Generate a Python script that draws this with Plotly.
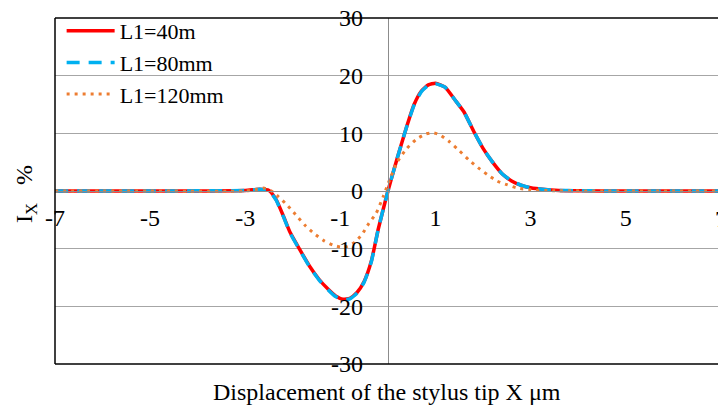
import plotly.graph_objects as go

# ---- data ----
x_red = [-7, -5, -3, -2.7, -2.5, -2.35, -2.2, -2.05, -1.85, -1.65, -1.45, -1.25, -1.1, -0.95, -0.8, -0.65,
         -0.5, -0.35, -0.2, 0, 0.2, 0.4, 0.55, 0.7, 0.85, 1.0, 1.2, 1.4, 1.6, 1.8, 2.0, 2.2, 2.4, 2.6,
         2.8, 3.0, 3.3, 3.6, 4, 5, 7]
y_red = [0, 0, 0.1, 0.3, 0.1, -1.5, -4.3, -7.3, -10.2, -13.0, -15.3, -17.1, -18.2, -18.75, -18.6, -17.6,
         -15.7, -12.2, -6.5, 0, 5.8, 11.3, 15.0, 17.3, 18.4, 18.7, 18.0, 15.9, 13.7, 10.4, 7.4, 5.0, 3.0, 1.75,
         1.0, 0.55, 0.25, 0.1, 0.05, 0, 0]

x_blue = x_red
y_blue = [0, 0, 0.1, 0.3, 0.1, -1.6, -4.4, -7.4, -10.3, -13.1, -15.4, -17.2, -18.3, -18.85, -18.7, -17.7,
          -15.8, -12.3, -6.5, 0, 5.8, 11.3, 14.9, 17.2, 18.3, 18.6, 18.0, 15.9, 13.7, 10.4, 7.4, 5.0, 3.0, 1.75,
          1.0, 0.55, 0.25, 0.1, 0.05, 0, 0]

x_orange = [-7, -5, -3, -2.75, -2.6, -2.45, -2.3, -2.1, -1.9, -1.75, -1.55, -1.35, -1.15, -1.0, -0.85, -0.7,
            -0.55, -0.4, -0.25, -0.1, 0, 0.2, 0.4, 0.6, 0.8, 0.95, 1.1, 1.3, 1.5, 1.7, 1.9, 2.1, 2.3, 2.5,
            2.7, 3.0, 3.5, 5, 7]
y_orange = [0, 0, 0, 0.3, 0.5, 0.0, -1.0, -2.6, -4.5, -5.9, -7.4, -8.6, -9.4, -9.7, -9.6, -8.9,
            -7.6, -5.6, -3.9, -1.0, 1.2, 5.1, 7.4, 9.0, 9.9, 10.1, 9.7, 8.5, 7.0, 5.4, 4.0, 2.8, 1.7, 1.1,
            0.55, 0.2, 0.05, 0, 0]

x_ticks = [-7, -5, -3, -1, 1, 3, 5, 7]
y_ticks = [-30, -20, -10, 0, 10, 20, 30]
names = ["L1=40m", "L1=80mm", "L1=120mm"]

FONT = "Liberation Serif"
FS = 24
X_MIN = -7
X_MAX_VISIBLE = 6.94  # the plot area runs slightly past the window edge

fig = go.Figure()
fig.add_trace(go.Scatter(x=x_red, y=y_red, name=names[0], mode="lines",
                         line=dict(color="#FF0000", width=3.5, shape="spline", smoothing=0.5)))
fig.add_trace(go.Scatter(x=x_blue, y=y_blue, name=names[1], mode="lines",
                         line=dict(color="#00B0F0", width=3.5, dash="13px,9px", shape="spline", smoothing=0.5)))
fig.add_trace(go.Scatter(x=x_orange, y=y_orange, name=names[2], mode="lines",
                         line=dict(color="#ED7D31", width=3, dash="3px,5px", shape="spline", smoothing=0.5)))

in_range = [v for v in x_ticks if v <= X_MAX_VISIBLE]
out_range = [v for v in x_ticks if v > X_MAX_VISIBLE]

annotations = [
    dict(text="Displacement of the stylus tip X μm", xref="paper", yref="paper", x=0.5, y=0,
         yshift=-28, xanchor="center", yanchor="middle", showarrow=False,
         font=dict(family=FONT, size=FS)),
    dict(text="I<sub>X</sub>   %", xref="paper", yref="paper", x=0, y=0.5, xshift=-29, yshift=-3,
         textangle=-90, xanchor="center", yanchor="middle", showarrow=False,
         font=dict(family=FONT, size=FS)),
]
for v in out_range:
    annotations.append(dict(text=str(v), xref="paper", yref="paper",
                            x=(v - X_MIN) / (X_MAX_VISIBLE - X_MIN), y=0.5, yshift=-28,
                            xanchor="center", yanchor="middle", showarrow=False,
                            font=dict(family=FONT, size=FS)))

fig.update_layout(
    width=718, height=412,
    margin=dict(l=55, r=0, t=18, b=48),
    paper_bgcolor="white", plot_bgcolor="white",
    font=dict(family=FONT, size=FS, color="black"),
    showlegend=True,
    legend=dict(x=0.01, y=1.023, xanchor="left", yanchor="top", bgcolor="rgba(0,0,0,0)",
                font=dict(family=FONT, size=22), itemwidth=48, tracegroupgap=0),
    xaxis=dict(range=[X_MIN, X_MAX_VISIBLE], tickvals=in_range, ticktext=[str(v) for v in in_range],
               showgrid=False, zeroline=False, showline=True, linecolor="#8C8C8C", linewidth=1.2,
               anchor="free", position=0.5, ticks="", ticklabelstandoff=5,
               tickfont=dict(family=FONT, size=FS)),
    yaxis=dict(range=[-30, 30], tickvals=y_ticks, ticktext=[str(v) for v in y_ticks],
               showgrid=True, gridcolor="#A6A6A6", gridwidth=1.2, zeroline=False,
               showline=True, linecolor="#8C8C8C", linewidth=1.2,
               anchor="free", position=-X_MIN / (X_MAX_VISIBLE - X_MIN), ticks="", ticklabelstandoff=20,
               tickfont=dict(family=FONT, size=FS)),
    shapes=[
        dict(type="line", xref="paper", yref="paper", x0=0, x1=0, y0=0, y1=1, line=dict(color="black", width=1.5)),
        dict(type="line", xref="paper", yref="paper", x0=0, x1=1, y0=1, y1=1, line=dict(color="black", width=1.5)),
        dict(type="line", xref="paper", yref="paper", x0=0, x1=1, y0=0, y1=0, line=dict(color="black", width=1.5)),
    ],
    annotations=annotations,
)

fig.write_html("out.html")
